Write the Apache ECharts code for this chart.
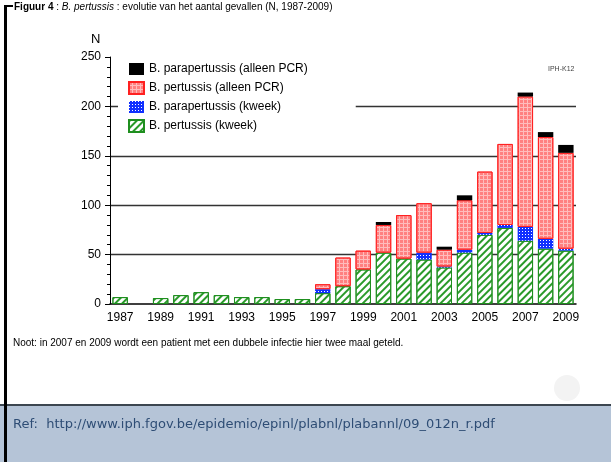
<!DOCTYPE html>
<html lang="nl">
<head>
    <meta charset="UTF-8">
    <title>B. pertussis evolutie</title>
    <script src="https://cdn.jsdelivr.net/npm/echarts@6/dist/echarts.min.js"></script>
    <style>
        html, body { margin: 0; padding: 0; background: #fff; }
        #chart { width: 611px; height: 462px; }
    </style>
</head>
<body>
<div id="chart"></div>
<script>
    // jaren en aantallen per type
    var years = ['1987', '1988', '1989', '1990', '1991', '1992', '1993', '1994', '1995', '1996', '1997', '1998',
        '1999', '2000', '2001', '2002', '2003', '2004', '2005', '2006', '2007', '2008', '2009'];
    var pertussisKweek = [7, 0, 6, 9, 12, 9, 7, 7, 5, 5, 11, 18, 35, 52, 46, 45, 37, 52, 70, 77, 64, 56, 54];
    var parapertussisKweek = [0, 0, 0, 0, 0, 0, 0, 0, 0, 0, 4, 0, 0, 0, 0, 7, 1, 3, 2, 3, 14, 10, 2];
    var pertussisPCR = [0, 0, 0, 0, 0, 0, 0, 0, 0, 0, 5, 29, 19, 28, 44, 50, 17, 50, 62, 82, 132, 103, 97];
    var parapertussisPCR = [0, 0, 0, 0, 0, 0, 0, 0, 0, 0, 0, 0, 0, 3, 0, 0, 3, 5, 0, 0, 4, 5, 8];
    var yTicks = [0, 50, 100, 150, 200, 250];

    var font = 'Liberation Sans, Arial, sans-serif';

    // nul niet tekenen (anders een randlijn op de stapel)
    function clean(arr) {
        return arr.map(function (v) { return v === 0 ? null : v; });
    }

    var chart = echarts.init(document.getElementById('chart'));

    var option = {
        backgroundColor: '#fff',
        animation: false,
        textStyle: { fontFamily: font },
        grid: { left: 110, right: 35, top: 57, bottom: 158 },
        legend: {
            orient: 'vertical',
            left: 118,
            top: 57,
            padding: [6, 48, 8, 10],
            backgroundColor: '#fff',
            itemWidth: 15,
            itemHeight: 12,
            itemGap: 6,
            icon: 'rect',
            textStyle: { fontSize: 12, color: '#000', fontFamily: font },
            data: ['B. parapertussis (alleen PCR)', 'B. pertussis (alleen PCR)',
                'B. parapertussis (kweek)', 'B. pertussis (kweek)']
        },
        xAxis: {
            type: 'category',
            data: years,
            axisLine: { lineStyle: { color: '#000', width: 1.5 } },
            axisTick: { show: false },
            axisLabel: { interval: 1, fontSize: 12, color: '#000', margin: 8 }
        },
        yAxis: {
            type: 'value',
            min: yTicks[0],
            max: yTicks[yTicks.length - 1],
            interval: 50,
            axisLine: { show: true, lineStyle: { color: '#000', width: 1 } },
            axisTick: { show: true, length: 5, lineStyle: { color: '#000' } },
            minorTick: { show: true, splitNumber: 5, length: 3, lineStyle: { color: '#000' } },
            axisLabel: { fontSize: 12, color: '#000', margin: 9 },
            splitLine: {
                show: true,
                showMinLine: false,
                showMaxLine: false,
                lineStyle: { color: '#333', width: 1.3 }
            }
        },
        series: [
            {
                name: 'B. pertussis (kweek)',
                type: 'bar',
                stack: 'n',
                barWidth: '76%',
                data: clean(pertussisKweek),
                itemStyle: {
                    color: '#fff',
                    borderColor: '#1f8f1f',
                    borderWidth: 1,
                    decal: {
                        symbol: 'rect',
                        color: '#2a9a2a',
                        dashArrayX: [1, 0],
                        dashArrayY: [2, 3],
                        rotation: -Math.PI / 4
                    }
                }
            },
            {
                name: 'B. parapertussis (kweek)',
                type: 'bar',
                stack: 'n',
                data: clean(parapertussisKweek),
                itemStyle: {
                    color: '#1030ff',
                    decal: {
                        symbol: 'rect',
                        color: '#fff',
                        dashArrayX: [1, 2],
                        dashArrayY: [1, 2]
                    }
                }
            },
            {
                name: 'B. pertussis (alleen PCR)',
                type: 'bar',
                stack: 'n',
                data: clean(pertussisPCR),
                itemStyle: {
                    color: '#ffbcbc',
                    borderColor: '#ff2020',
                    borderWidth: 1,
                    decal: {
                        symbol: 'rect',
                        color: '#ff8080',
                        dashArrayX: [3, 1],
                        dashArrayY: [3, 1]
                    }
                }
            },
            {
                name: 'B. parapertussis (alleen PCR)',
                type: 'bar',
                stack: 'n',
                data: clean(parapertussisPCR),
                itemStyle: { color: '#000' }
            }
        ],
        graphic: [
            // kader links en boven
            { type: 'rect', shape: { x: 4, y: 5, width: 3, height: 457 }, style: { fill: '#000' }, z: 10 },
            { type: 'rect', shape: { x: 4, y: 5, width: 9, height: 2 }, style: { fill: '#000' }, z: 10 },
            {
                type: 'text', left: 14, top: 2, z: 10,
                style: {
                    text: '{b|Figuur 4} : {i|B. pertussis} : evolutie van het aantal gevallen (N, 1987-2009)',
                    font: '10px ' + font,
                    fill: '#000',
                    rich: {
                        b: { fontWeight: 'bold', fontSize: 10, fontFamily: font },
                        i: { fontStyle: 'italic', fontSize: 10, fontFamily: font }
                    }
                }
            },
            { type: 'text', left: 91, top: 33, style: { text: 'N', font: '13px ' + font, fill: '#000' } },
            { type: 'text', left: 548, top: 66, style: { text: 'IPH-K12', font: '7px ' + font, fill: '#444' } },
            {
                type: 'text', left: 13, top: 338,
                style: {
                    text: 'Noot: in 2007 en 2009 wordt een patient met een dubbele infectie hier twee maal geteld.',
                    font: '10px ' + font, fill: '#000'
                }
            },
            // vaag logo rechtsonder
            { type: 'circle', shape: { cx: 567, cy: 388, r: 13 }, style: { fill: '#f3f3f3' } },
            // voetbalk
            { type: 'rect', shape: { x: 0, y: 405, width: 611, height: 57 }, style: { fill: '#b5c4d7' } },
            { type: 'rect', shape: { x: 0, y: 404, width: 611, height: 2 }, style: { fill: '#3c4650' } },
            {
                type: 'text', left: 13, top: 418, z: 10,
                style: {
                    text: 'Ref:  http://www.iph.fgov.be/epidemio/epinl/plabnl/plabannl/09_012n_r.pdf',
                    font: '13px DejaVu Sans, Verdana, sans-serif', fill: '#2e4d75'
                }
            }
        ]
    };

    chart.setOption(option);
</script>
</body>
</html>
